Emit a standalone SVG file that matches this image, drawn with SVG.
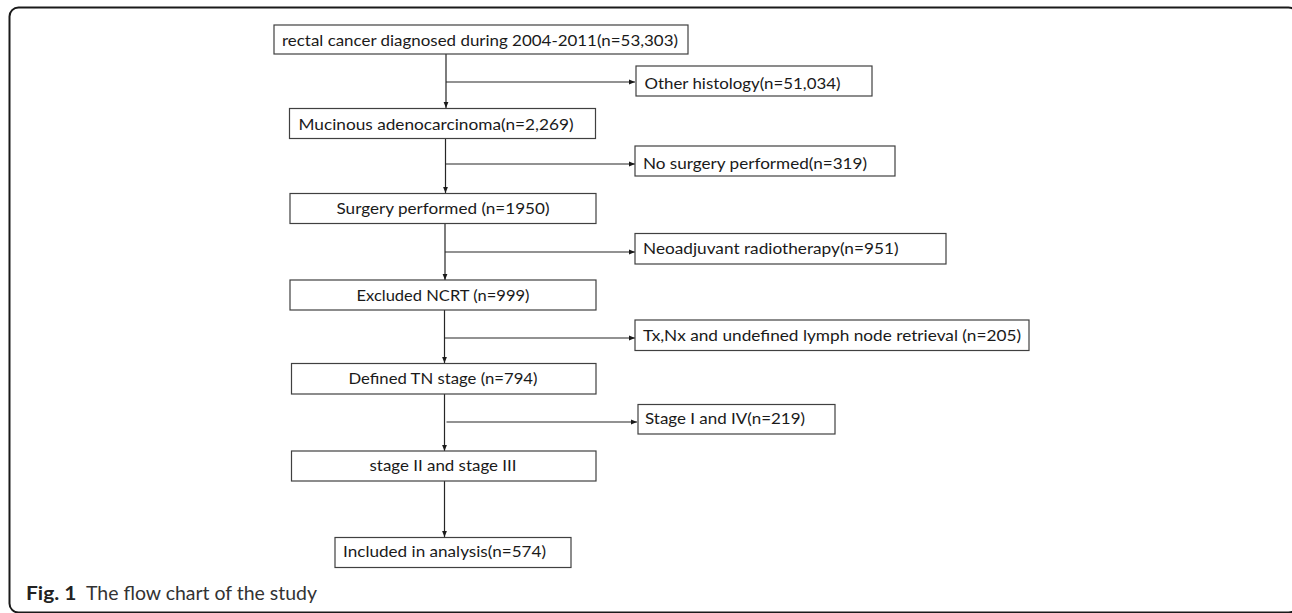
<svg xmlns="http://www.w3.org/2000/svg" width="1292" height="613" viewBox="0 0 1292 613">
<style>
.box{fill:#fff;stroke:#404040;stroke-width:1.2}
.t{font-family:Lato,"Liberation Sans",sans-serif;font-size:16px;fill:#1a1a1a}
.c{text-anchor:middle}
.ln{stroke:#262626;stroke-width:1.2;fill:none}
.frame{fill:none;stroke:#1a1a1a;stroke-width:2}
.cap{font-family:Lato,"Open Sans",sans-serif;font-size:19.5px;fill:#222}
</style>
<defs>
<marker id="ah" viewBox="0 0 6 6" refX="6" refY="3" markerWidth="6" markerHeight="6" markerUnits="userSpaceOnUse" orient="auto">
<path d="M0,0.6 L6,3 L0,5.4 Z" fill="#1a1a1a"/>
</marker>
</defs>
<rect class="frame" x="9.5" y="7.5" width="1288" height="605" rx="9"/>
<g id="connectors">
<line class="ln" x1="446" y1="54" x2="446" y2="108" marker-end="url(#ah)"/>
<line class="ln" x1="446" y1="82" x2="635" y2="82" marker-end="url(#ah)"/>
<line class="ln" x1="445.5" y1="138" x2="445.5" y2="193" marker-end="url(#ah)"/>
<line class="ln" x1="445.5" y1="164" x2="635" y2="164" marker-end="url(#ah)"/>
<line class="ln" x1="445" y1="223" x2="445" y2="280" marker-end="url(#ah)"/>
<line class="ln" x1="445" y1="252" x2="635" y2="252" marker-end="url(#ah)"/>
<line class="ln" x1="444.5" y1="310" x2="444.5" y2="363" marker-end="url(#ah)"/>
<line class="ln" x1="444.5" y1="338" x2="635" y2="338" marker-end="url(#ah)"/>
<line class="ln" x1="444.5" y1="394" x2="444.5" y2="451" marker-end="url(#ah)"/>
<line class="ln" x1="446.5" y1="422" x2="637" y2="422" marker-end="url(#ah)"/>
<line class="ln" x1="444.5" y1="481" x2="444.5" y2="537" marker-end="url(#ah)"/>
</g>
<g id="n1"><rect class="box" x="274" y="25" width="414" height="29"/><text class="t" x="282" y="45.5" textLength="396" lengthAdjust="spacingAndGlyphs">rectal cancer diagnosed during 2004-2011(n=53,303)</text></g>
<g id="n2"><rect class="box" x="636" y="66" width="236" height="30"/><text class="t" x="644.5" y="89" textLength="196" lengthAdjust="spacingAndGlyphs">Other histology(n=51,034)</text></g>
<g id="n3"><rect class="box" x="289.5" y="108.5" width="306" height="30"/><text class="t" x="298.5" y="129.5" textLength="275" lengthAdjust="spacingAndGlyphs">Mucinous adenocarcinoma(n=2,269)</text></g>
<g id="n4"><rect class="box" x="635" y="146" width="260" height="30"/><text class="t" x="643" y="169.3" textLength="224" lengthAdjust="spacingAndGlyphs">No surgery performed(n=319)</text></g>
<g id="n5"><rect class="box" x="290" y="193.5" width="306" height="30"/><text class="t c" x="443" y="214" textLength="213" lengthAdjust="spacingAndGlyphs">Surgery performed (n=1950)</text></g>
<g id="n6"><rect class="box" x="635" y="233.5" width="311" height="30.5"/><text class="t" x="643" y="254" textLength="255.5" lengthAdjust="spacingAndGlyphs">Neoadjuvant radiotherapy(n=951)</text></g>
<g id="n7"><rect class="box" x="290" y="280" width="306" height="30"/><text class="t c" x="443" y="300.7" textLength="173" lengthAdjust="spacingAndGlyphs">Excluded NCRT (n=999)</text></g>
<g id="n8"><rect class="box" x="635" y="320" width="394" height="30.5"/><text class="t" x="643" y="340.7" textLength="378" lengthAdjust="spacingAndGlyphs">Tx,Nx and undefined lymph node retrieval (n=205)</text></g>
<g id="n9"><rect class="box" x="291.5" y="363.5" width="304.5" height="30.5"/><text class="t c" x="443" y="384" textLength="189" lengthAdjust="spacingAndGlyphs">Defined TN stage (n=794)</text></g>
<g id="n10"><rect class="box" x="638" y="404.5" width="197" height="29.5"/><text class="t" x="645" y="424.3" textLength="160" lengthAdjust="spacingAndGlyphs">Stage I and IV(n=219)</text></g>
<g id="n11"><rect class="box" x="291.5" y="451" width="304.5" height="30"/><text class="t c" x="443" y="470.7" textLength="147" lengthAdjust="spacingAndGlyphs">stage II and stage III</text></g>
<g id="n12"><rect class="box" x="335" y="537.5" width="236" height="30"/><text class="t" x="343" y="557.3" textLength="203" lengthAdjust="spacingAndGlyphs">Included in analysis(n=574)</text></g>
<text class="cap" x="26" y="600"><tspan font-weight="bold" textLength="50.5" lengthAdjust="spacingAndGlyphs">Fig. 1</tspan><tspan x="86" textLength="231" lengthAdjust="spacingAndGlyphs" fill="#333">The flow chart of the study</tspan></text>
</svg>
